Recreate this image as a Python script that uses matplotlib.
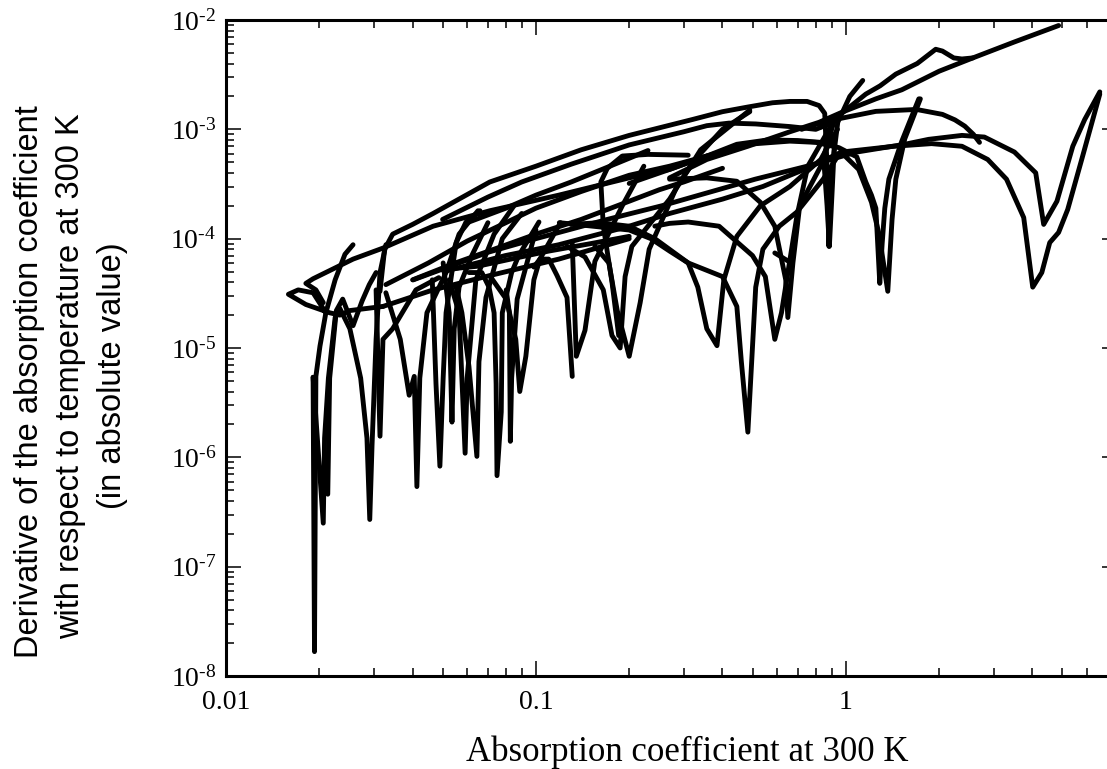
import matplotlib
matplotlib.use('Agg')
import matplotlib.pyplot as plt
from matplotlib.ticker import LogLocator, FixedLocator, FixedFormatter, NullFormatter

# absorption coefficient at 300 K (x) / |d alpha / dT| (y)
# main straight line with the bump near 2
main_x = [0.0321, 0.0466, 0.071, 0.1185, 0.2, 0.27, 0.356, 0.483, 0.66, 0.82, 0.97, 1.25, 1.516, 2.0, 2.57, 3.5, 4.86]
main_y = [2.4e-5, 3.4e-5, 4.6e-5, 6.5e-5, 1.0e-4, 3.6e-4, 5.3e-4, 7e-4, 9.5e-4, 1.16e-3, 1.43e-3, 1.9e-3, 2.3e-3, 3.4e-3, 4.5e-3, 6.3e-3, 8.9e-3]
bump_x = [0.72, 0.83, 0.97, 1.16, 1.29, 1.45, 1.7, 1.95, 2.05, 2.23, 2.37, 2.57]
bump_y = [1.0e-3, 1.15e-3, 1.4e-3, 2.1e-3, 2.5e-3, 3.2e-3, 4e-3, 5.4e-3, 5.2e-3, 4.5e-3, 4.4e-3, 4.5e-3]

# hook at the left end
hook_l_x = [0.021, 0.0191, 0.0171, 0.0159, 0.0181, 0.0216, 0.0233, 0.0251, 0.0321]
hook_l_y = [2.1e-5, 3.2e-5, 3.4e-5, 3.1e-5, 2.5e-5, 2.1e-5, 2e-5, 2.2e-5, 2.4e-5]

# second line, from the left tip to the dip arcs
line2_x = [0.0206, 0.0195, 0.0181, 0.0191, 0.0257, 0.0321, 0.0466, 0.071, 0.1185, 0.2, 0.27, 0.356, 0.445, 0.56, 0.7, 0.83]
line2_y = [2.6e-5, 3.4e-5, 3.9e-5, 4.3e-5, 6.5e-5, 8.2e-5, 1.3e-4, 1.8e-4, 2.5e-4, 3.6e-4, 4.3e-4, 5.7e-4, 7.3e-4, 8e-4, 7.9e-4, 7.6e-4]

# top envelope arc, falls into the narrow dip near 0.88
env_x = [0.0314, 0.0325, 0.0345, 0.04, 0.0466, 0.071, 0.1, 0.14, 0.2, 0.32, 0.4, 0.483, 0.58, 0.66, 0.75, 0.82, 0.855, 0.872, 0.882, 0.895, 0.908, 0.942, 1.03, 1.134]
env_y = [3.3e-5, 8e-5, 1.1e-4, 1.35e-4, 1.7e-4, 3.3e-4, 4.6e-4, 6.5e-4, 8.8e-4, 1.23e-3, 1.45e-3, 1.6e-3, 1.75e-3, 1.8e-3, 1.8e-3, 1.65e-3, 1.4e-3, 4e-4, 8.5e-5, 3.3e-4, 5e-4, 1.16e-3, 2e-3, 2.8e-3]
narrow_x = [0.85, 0.87, 0.885, 0.905, 0.92]
narrow_y = [5e-4, 2e-4, 8.5e-5, 3e-4, 8e-4]

# second top arc
top2_x = [0.05, 0.07, 0.09, 0.13, 0.2, 0.3, 0.356, 0.42, 0.512, 0.66, 0.8, 0.87]
top2_y = [1.5e-4, 2.4e-4, 3.3e-4, 4.8e-4, 7.2e-4, 9.5e-4, 1.08e-3, 1.14e-3, 1.12e-3, 1.06e-3, 1e-3, 1.1e-3]

# lower arc and dip near 4
arc_a_x = [0.0505, 0.0796, 0.1185, 0.2, 0.27, 0.4, 0.54, 0.72, 0.97, 1.43, 1.89, 2.37, 2.87, 3.30, 3.75, 4.01, 4.29, 4.55, 4.86, 5.2, 5.77, 6.6]
arc_a_y = [5e-5, 7e-5, 8.8e-5, 1.3e-4, 1.7e-4, 2.3e-4, 3e-4, 4.2e-4, 6.2e-4, 7e-4, 7.4e-4, 7e-4, 5.3e-4, 3.5e-4, 1.56e-4, 3.6e-5, 4.9e-5, 9.2e-5, 1.14e-4, 1.85e-4, 5.3e-4, 2.1e-3]

# upper arc and dip near 4.3
arc_b_x = [0.0402, 0.07, 0.1, 0.17, 0.255, 0.51, 0.75, 1.085, 1.55, 1.85, 2.37, 2.8, 3.5, 4.1, 4.35, 4.8, 5.4, 5.9, 6.6]
arc_b_y = [4.2e-5, 7.5e-5, 1e-4, 1.5e-4, 2e-4, 3.5e-4, 4.6e-4, 6.2e-4, 7.3e-4, 8.1e-4, 8.8e-4, 8.5e-4, 6.2e-4, 4e-4, 1.35e-4, 2.2e-4, 7e-4, 1.23e-3, 2.2e-3]

# arc with the end at 2.7
arc_c_x = [0.83, 0.95, 1.25, 1.69, 2.05, 2.25, 2.42, 2.58, 2.7]
arc_c_y = [1.05e-3, 1.25e-3, 1.46e-3, 1.52e-3, 1.37e-3, 1.22e-3, 1.07e-3, 9e-4, 7.6e-4]

# twin dips near 1.3
dip_d_x = [0.2, 0.27, 0.356, 0.483, 0.66, 0.8, 0.95, 1.085, 1.16, 1.21, 1.25, 1.287, 1.31, 1.336, 1.377, 1.516, 1.72]
dip_d_y = [3.2e-4, 4.3e-4, 5.7e-4, 7.3e-4, 7.8e-4, 7.6e-4, 6.8e-4, 5.6e-4, 3.3e-4, 2.5e-4, 1.9e-4, 3.9e-5, 9e-5, 1.9e-4, 3.5e-4, 7.8e-4, 1.9e-3]
dip_e_x = [1.0, 1.1, 1.21, 1.28, 1.366, 1.41, 1.45, 1.55, 1.74]
dip_e_y = [5.6e-4, 4.3e-4, 2.15e-4, 1.1e-4, 3.3e-5, 1.5e-4, 3.5e-4, 8.2e-4, 1.9e-3]

# dips between 0.1 and 1
dip_f_x = [0.13, 0.16, 0.2, 0.242, 0.31, 0.333, 0.356, 0.384, 0.404, 0.445, 0.53, 0.66, 0.83, 0.94]
dip_f_y = [1.35e-4, 1.4e-4, 1.3e-4, 1e-4, 6e-5, 3.6e-5, 1.5e-5, 1.05e-5, 4.2e-5, 1.05e-4, 2e-4, 3e-4, 5.3e-4, 1e-3]
dip_g_x = [0.119, 0.2, 0.235, 0.27, 0.31, 0.4, 0.445, 0.46, 0.483, 0.512, 0.54, 0.61, 0.695, 0.845, 0.96]
dip_g_y = [1.4e-4, 1.2e-4, 1e-4, 7.7e-5, 6e-5, 4.5e-5, 2.4e-5, 7.6e-6, 1.7e-6, 3.6e-5, 8e-5, 1.3e-4, 1.75e-4, 3.5e-4, 6.2e-4]
dip_h_x = [0.242, 0.27, 0.31, 0.39, 0.5, 0.55, 0.59, 0.62, 0.695, 0.754, 0.92]
dip_h_y = [1.3e-4, 1.38e-4, 1.42e-4, 1.3e-4, 7e-5, 4.5e-5, 1.2e-5, 2.1e-5, 1.6e-4, 4.6e-4, 1.23e-3]
dip_i_x = [0.27, 0.356, 0.445, 0.53, 0.59, 0.64, 0.65, 0.675, 0.71, 0.83, 0.92]
dip_i_y = [3.5e-4, 3.6e-4, 3.35e-4, 2.15e-4, 1.3e-4, 4.2e-5, 1.9e-5, 6e-5, 2e-4, 4.6e-4, 1.23e-3]
dip_j_x = [0.59, 0.66]
dip_j_y = [7.4e-5, 6.1e-5]
dip_k_x = [0.0985, 0.103, 0.11, 0.117, 0.126, 0.131]
dip_k_y = [5.5e-5, 6.5e-5, 6.5e-5, 4.6e-5, 2.9e-5, 5.5e-6]
dip_l_x = [0.131, 0.135, 0.144, 0.155, 0.19, 0.223]
dip_l_y = [9e-5, 8.4e-6, 1.45e-5, 6.2e-5, 2e-4, 4.6e-4]
dip_m_x = [0.126, 0.144, 0.165, 0.176, 0.187, 0.194, 0.204, 0.27, 0.34, 0.49]
dip_m_y = [8.5e-5, 6.8e-5, 3.4e-5, 1.3e-5, 1e-5, 4.5e-5, 8.5e-5, 2.3e-4, 6.5e-4, 1.5e-3]
dip_n_x = [0.155, 0.172, 0.183, 0.2, 0.217, 0.232, 0.285, 0.33, 0.4, 0.49]
dip_n_y = [8.5e-5, 6e-5, 2.2e-5, 8.4e-6, 2.6e-5, 8e-5, 3e-4, 5.5e-4, 1e-3, 1.45e-3]
hook_x = [0.31, 0.23, 0.19, 0.17, 0.162, 0.165, 0.176, 0.185]
hook_y = [5.8e-4, 5.9e-4, 5.7e-4, 4.4e-4, 3.3e-4, 1.3e-4, 4e-5, 1.3e-5]

# bundle of nearly straight lines in the middle
bund_1_x = [0.0328, 0.045, 0.06, 0.08, 0.1, 0.14, 0.2, 0.27, 0.356]
bund_1_y = [3.8e-5, 6e-5, 9.5e-5, 1.4e-4, 1.9e-4, 2.7e-4, 3.8e-4, 4.6e-4, 5.7e-4]
bund_2_x = [0.04, 0.055, 0.075, 0.1, 0.14, 0.2, 0.25, 0.3, 0.4]
bund_2_y = [4.2e-5, 6e-5, 8.2e-5, 1.1e-4, 1.5e-4, 2.2e-4, 2.8e-4, 3.3e-4, 4.4e-4]
bund_3_x = [0.05, 0.065, 0.085, 0.11, 0.15, 0.2]
bund_3_y = [5.2e-5, 5.6e-5, 6.6e-5, 7.7e-5, 9e-5, 1.05e-4]
bund_4_x = [0.06, 0.08, 0.1, 0.13, 0.17, 0.23]
bund_4_y = [1.4e-4, 1.9e-4, 2.5e-4, 3.3e-4, 4.5e-4, 6.4e-4]

# narrow dips below 0.1
spike_x = [0.0191, 0.0193, 0.0195, 0.0201, 0.021, 0.0225, 0.0242, 0.0257]
spike_y = [5.4e-6, 1.67e-8, 5.5e-6, 1.04e-5, 2.1e-5, 4.2e-5, 7.2e-5, 8.8e-5]
dip_1_x = [0.0191, 0.0206, 0.0208, 0.0214, 0.0225, 0.0233, 0.0251, 0.0272, 0.0285, 0.0291, 0.0296, 0.0305, 0.0314, 0.0328]
dip_1_y = [5.4e-6, 2.5e-7, 1.5e-6, 5.3e-6, 1.9e-5, 2.3e-5, 1.5e-5, 5.3e-6, 1.5e-6, 2.7e-7, 1.3e-6, 1.2e-5, 4.9e-5, 8.8e-5]
dip_2_x = [0.0213, 0.0216, 0.0227, 0.0238, 0.0257, 0.0275, 0.029, 0.0305]
dip_2_y = [4.6e-7, 5.3e-6, 2.2e-5, 2.8e-5, 1.6e-5, 2.7e-5, 3.8e-5, 4.9e-5]
dip_3_x = [0.0305, 0.0314, 0.0321, 0.0345, 0.041, 0.0486]
dip_3_y = [3.4e-5, 1.56e-6, 1.2e-5, 1.5e-5, 3.4e-5, 4.4e-5]
dip_4_x = [0.0328, 0.0365, 0.039, 0.0405, 0.0413, 0.0422, 0.0445, 0.0513, 0.0565, 0.065]
dip_4_y = [3.2e-5, 1.2e-5, 3.7e-6, 5.5e-6, 5.4e-7, 5.3e-6, 2.1e-5, 4.9e-5, 1.1e-4, 1.8e-4]
dip_5_x = [0.0463, 0.0476, 0.049, 0.0502, 0.0513, 0.0553, 0.0595, 0.066]
dip_5_y = [4.2e-5, 4.7e-6, 8.3e-7, 5.3e-6, 2.1e-5, 9.2e-5, 1.42e-4, 1.8e-4]
dip_6_x = [0.0502, 0.0525, 0.0536, 0.0545, 0.0565, 0.0621, 0.07]
dip_6_y = [6e-5, 2.1e-5, 2.1e-6, 1.5e-5, 3.6e-5, 7e-5, 1.4e-4]
dip_7_x = [0.0525, 0.0565, 0.0591, 0.06, 0.064, 0.0733, 0.085]
dip_7_y = [4.2e-5, 2.1e-5, 1.09e-6, 5.3e-6, 4.2e-5, 1.1e-4, 2e-4]
dip_8_x = [0.0553, 0.0577, 0.0608, 0.0645, 0.0655, 0.069, 0.0779, 0.09]
dip_8_y = [3.6e-5, 2.1e-5, 6.8e-6, 1.02e-6, 7.5e-6, 2.9e-5, 1e-4, 1.7e-4]
dip_9_x = [0.0608, 0.0669, 0.0706, 0.0733, 0.0744, 0.0749, 0.0773, 0.0779, 0.0835, 0.088, 0.1023]
dip_9_y = [4.9e-5, 4.9e-5, 3.6e-5, 2.1e-5, 4.7e-6, 6.8e-7, 2.6e-6, 2.1e-5, 4.9e-5, 7e-5, 1.42e-4]
dip_10_x = [0.0802, 0.0821, 0.0827, 0.0835, 0.087, 0.1]
dip_10_y = [3.4e-5, 2.1e-5, 1.4e-6, 5.3e-6, 2.8e-5, 1.2e-4]
dip_11_x = [0.0717, 0.0802, 0.0861, 0.0887, 0.0928, 0.0985, 0.103, 0.12]
dip_11_y = [4.4e-5, 2.8e-5, 1.2e-5, 4e-6, 8.4e-6, 4.2e-5, 6.5e-5, 1.4e-4]

curves = [
    (main_x[5:], main_y[5:]), (main_x[:5], main_y[:5]), (bump_x, bump_y), (hook_l_x, hook_l_y), (line2_x, line2_y),
    (env_x, env_y), (narrow_x, narrow_y), (top2_x, top2_y),
    (arc_a_x, arc_a_y), (arc_b_x, arc_b_y), (arc_c_x, arc_c_y), (dip_d_x, dip_d_y), (dip_e_x, dip_e_y),
    (dip_f_x, dip_f_y), (dip_g_x, dip_g_y), (dip_h_x, dip_h_y), (dip_i_x, dip_i_y), (dip_j_x, dip_j_y),
    (dip_k_x, dip_k_y), (dip_l_x, dip_l_y), (dip_m_x, dip_m_y), (dip_n_x, dip_n_y), (hook_x, hook_y),
    (bund_1_x, bund_1_y), (bund_2_x, bund_2_y), (bund_3_x, bund_3_y), (bund_4_x, bund_4_y),
    (spike_x, spike_y), (dip_1_x, dip_1_y), (dip_2_x, dip_2_y), (dip_3_x, dip_3_y), (dip_4_x, dip_4_y),
    (dip_5_x, dip_5_y), (dip_6_x, dip_6_y), (dip_7_x, dip_7_y), (dip_8_x, dip_8_y), (dip_9_x, dip_9_y),
    (dip_10_x, dip_10_y), (dip_11_x, dip_11_y),
]

x_ticks = [0.01, 0.1, 1]
x_labels = ['0.01', '0.1', '1']
y_ticks = [1e-8, 1e-7, 1e-6, 1e-5, 1e-4, 1e-3, 1e-2]
y_labels = ['$\\mathregular{10^{\\text{-8}}}$', '$\\mathregular{10^{\\text{-7}}}$', '$\\mathregular{10^{\\text{-6}}}$',
            '$\\mathregular{10^{\\text{-5}}}$', '$\\mathregular{10^{\\text{-4}}}$', '$\\mathregular{10^{\\text{-3}}}$',
            '$\\mathregular{10^{\\text{-2}}}$']

plt.rcParams['font.family'] = 'Liberation Serif'
plt.rcParams['mathtext.fontset'] = 'custom'
plt.rcParams['mathtext.rm'] = 'Liberation Serif'

W, H = 1107, 769
fig = plt.figure(figsize=(W / 100, H / 100), dpi=100)
# right edge of the frame falls outside the picture, as in the original
ax = fig.add_axes([226 / W, (H - 676) / H, (1117 - 226) / W, (676 - 20) / H])

for xs, ys in curves:
    ax.plot(xs, ys, color='black', lw=3.5, solid_joinstyle='round', solid_capstyle='round')

ax.set_xscale('log')
ax.set_yscale('log')
ax.set_xlim(0.01, 7.5)
ax.set_ylim(1e-8, 1e-2)

ax.xaxis.set_major_locator(FixedLocator(x_ticks))
ax.xaxis.set_major_formatter(FixedFormatter(x_labels))
ax.yaxis.set_major_locator(FixedLocator(y_ticks))
ax.yaxis.set_major_formatter(FixedFormatter(y_labels))
ax.xaxis.set_minor_locator(LogLocator(base=10, subs=range(2, 10), numticks=20))
ax.yaxis.set_minor_locator(LogLocator(base=10, subs=range(2, 10), numticks=20))
ax.xaxis.set_minor_formatter(NullFormatter())
ax.yaxis.set_minor_formatter(NullFormatter())
ax.tick_params(which='major', direction='in', length=10.5, width=1.1, top=True, right=True, labelsize=20, pad=7)
ax.tick_params(which='major', axis='x', pad=10)
ax.tick_params(which='minor', direction='in', length=5.5, width=1.1, top=True, right=True)
for s in ax.spines.values():
    s.set_linewidth(2.2)

fig.text(687 / W, 1 - 752 / H, 'Absorption coefficient at 300 K', ha='center', va='center', fontsize=25)
fig.text(30 / W, 1 - 382 / H, 'Derivative of the absorption coefficient', rotation=90, ha='center', va='center',
         fontsize=23.5, family='Liberation Sans')
fig.text(71 / W, 1 - 376 / H, 'with respect to temperature at 300 K', rotation=90, ha='center', va='center',
         fontsize=23.5, family='Liberation Sans')
fig.text(113 / W, 1 - 376 / H, '(in absolute value)', rotation=90, ha='center', va='center',
         fontsize=23.5, family='Liberation Sans')

fig.savefig('out.png', dpi=100)
